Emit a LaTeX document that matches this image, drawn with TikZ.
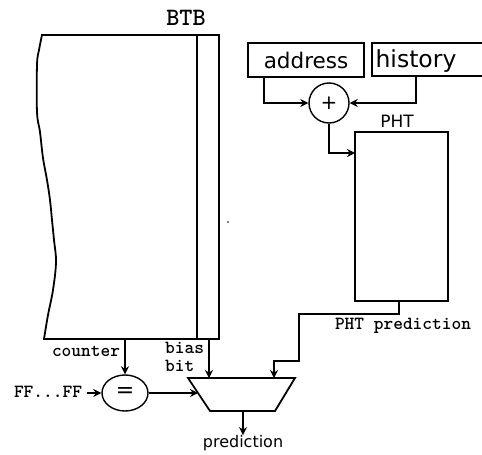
\documentclass[tikz,border=0pt]{standalone}
\usepackage{fontspec}
\setmainfont{DejaVu Sans}
\usetikzlibrary{arrows.meta,shapes.geometric}
\begin{document}
\begin{tikzpicture}[x=1pt,y=-1pt,
  wire/.style={line width=1.8pt,-{Stealth[length=8pt,width=8pt]}},
  plain/.style={line width=1.8pt},
  boxstyle/.style={draw,line width=1.8pt,inner sep=0pt},
  mlabel/.style={font=\ttfamily\bfseries\fontsize{18.5}{18}\selectfont,inner sep=0pt},
  slabel/.style={font=\fontsize{16}{18}\selectfont,inner sep=0pt}]
\useasboundingbox (0,0) rectangle (482,455);
\clip (0,0) rectangle (482,455);
% BTB
\node[font=\ttfamily\bfseries\fontsize{25}{26}\selectfont,inner sep=0pt] (btbl) at (186,18) {BTB};
\draw[plain] plot[smooth,tension=0.6] coordinates {(42,35) (39,50) (37,65) (37,112) (40,132) (43,158) (47,180) (50,200) (52,220) (54,240) (56,262) (53,290) (48,315) (44,339)}
  -- (219,339) -- (219,35) -- cycle;
\coordinate (btbtop) at (197,35);
\coordinate (btbbot) at (197,339);
\draw[plain] (btbtop) -- (btbbot);
\fill (228,222) circle (0.9pt);
% counter
\coordinate (cnt) at (125,339);
\node[mlabel] (counterl) at (86,351) {counter};
\node[draw,ellipse,line width=1.4pt,minimum width=46pt,minimum height=36pt,inner sep=0pt,font=\fontsize{22}{22}\selectfont] (eq) at (125,393) {=};
\draw[wire] (cnt) -- (eq.north);
\node[mlabel] (ff) at (48,392) {FF...FF};
\coordinate (ffe) at (87,393);
\draw[wire] (ffe) -- (eq.west);
% mux
\coordinate (m1) at (188,378);
\coordinate (m2) at (295,378);
\coordinate (m3) at (275,411);
\coordinate (m4) at (210,411);
\coordinate (muxl) at (198,393);
\draw[plain] (m1) -- (m2) -- (m3) -- (m4) -- cycle;
\draw[wire] (eq.east) -- (muxl);
% bias
\node[mlabel,anchor=north west,align=left] (bias) at (165,342) {bias\\bit};
\coordinate (bsrc) at (209,339);
\draw[wire] (bsrc) -- (bsrc |- m1);
% output
\node[slabel] (pred) at (243,443) {prediction};
\coordinate (mout) at (pred.north |- m4);
\draw[wire] (mout) -- (pred.north);
% top boxes
\node[boxstyle,minimum width=116pt,minimum height=34pt,font=\fontsize{21.5}{22}\selectfont] (addr) at (306,60) {address};
\draw[line width=1.8pt] (490,43) -- (372,43) -- (372,76) -- (490,76);
\node[inner sep=0pt,font=\fontsize{23.5}{24}\selectfont] (hist) at (416,61) {history};
\coordinate (histb) at (416,76);
\coordinate (addrb) at (264,77);
\node[draw,circle,line width=1.4pt,minimum size=40pt,inner sep=0pt,font=\fontsize{20}{20}\selectfont] (plus) at (329,103) {+};
\draw[wire] (addrb) |- (plus.west);
\draw[wire] (histb) |- (plus.east);
% PHT
\node[boxstyle,minimum width=93pt,minimum height=169pt] (pht) at (401.5,216.5) {};
\node[slabel,font=\fontsize{17}{18}\selectfont] (phtl) at (397,121) {PHT};
\coordinate (phtin) at (355,153);
\draw[wire] (plus.south) |- (phtin);
\node[mlabel] (phtp) at (403,326) {PHT prediction};
\coordinate (pb) at (399,301);
\coordinate (mtop) at (274,378);
\draw[wire] (pb) -- ++(0,13) -| (299,361) -| (mtop);
\end{tikzpicture}
\end{document}
